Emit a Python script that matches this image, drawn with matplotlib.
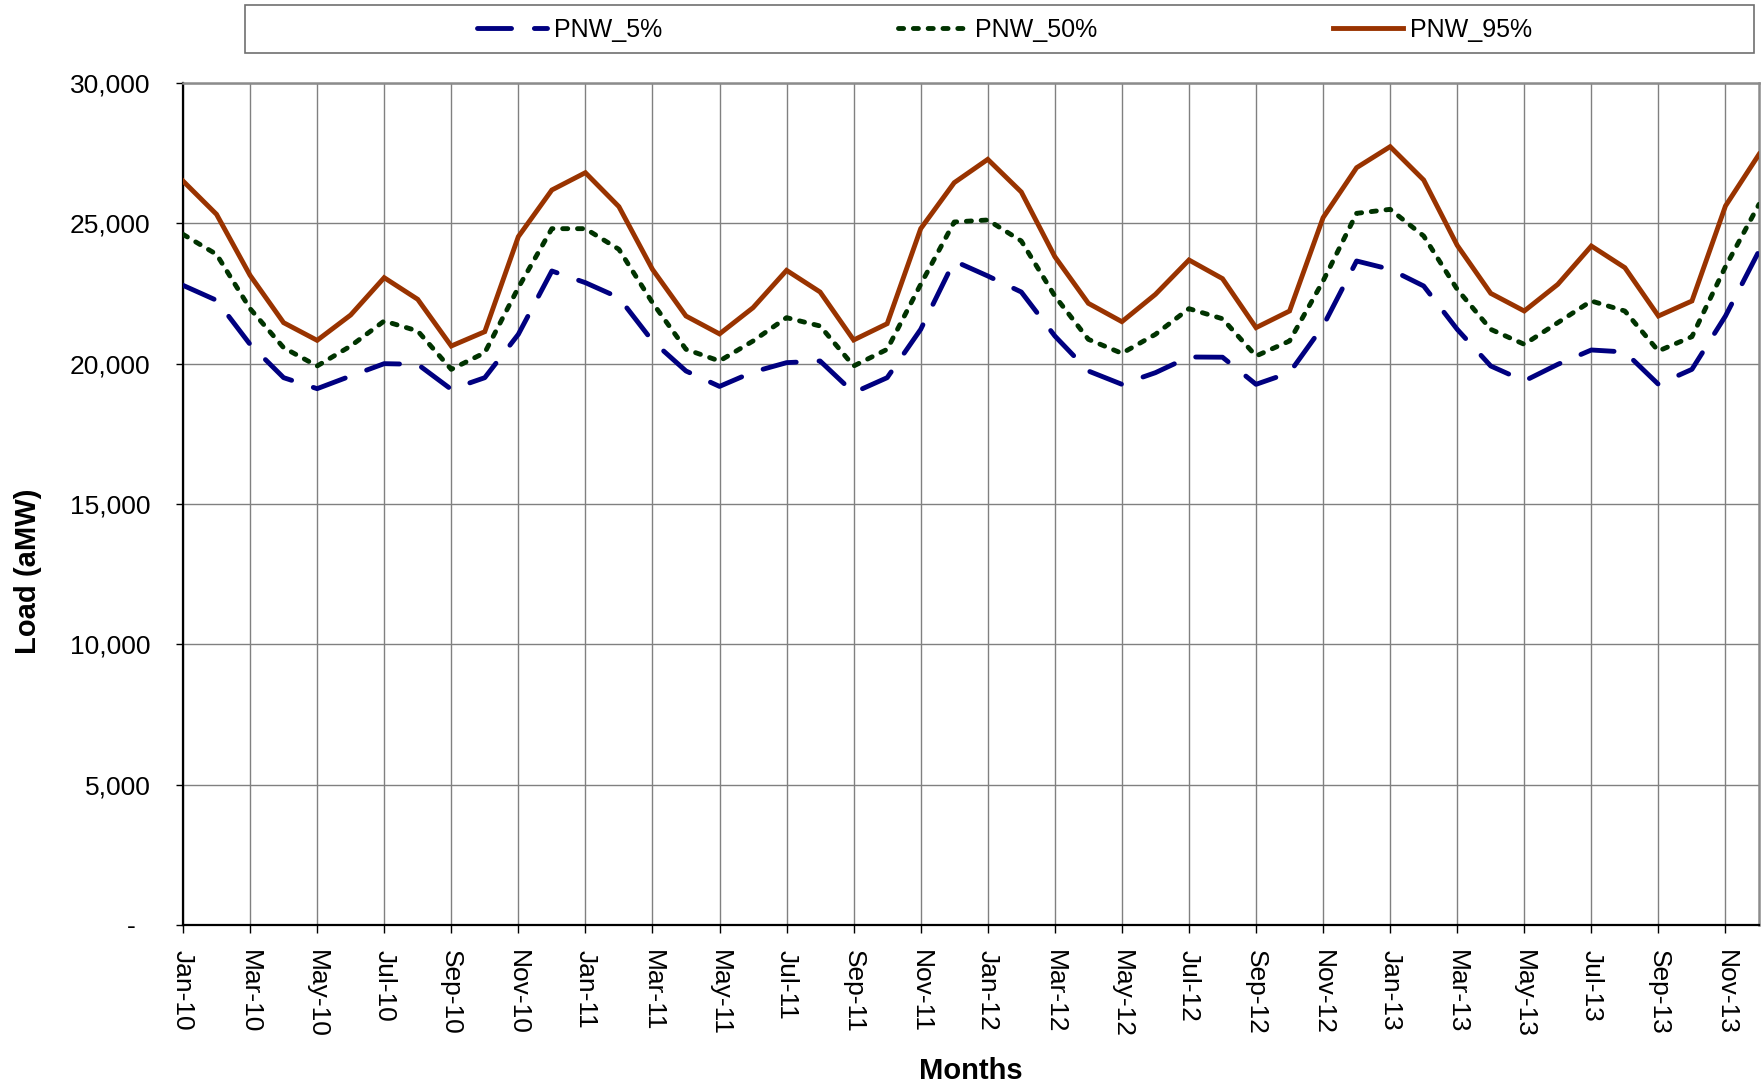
import matplotlib
matplotlib.use("Agg")
import matplotlib.pyplot as plt
from matplotlib.patches import Rectangle
import numpy as np

plt.rcParams['font.family'] = ['Liberation Sans', 'DejaVu Sans']

# ---- data ----
series_names = ["PNW_5%", "PNW_50%", "PNW_95%"]

pnw_5 = [22791, 22257, 20689, 19501, 19109, 19561, 20000, 19976, 19086, 19501, 21045, 23302,
         22886, 22352, 20808, 19739, 19190, 19703, 20036, 20095, 18967, 19501, 21223, 23658,
         23124, 22553, 20986, 19739, 19264, 19679, 20238, 20230, 19264, 19679, 21342, 23658,
         23361, 22767, 21223, 19917, 19382, 19976, 20487, 20416, 19264, 19798, 21698, 24014]

pnw_50 = [24608, 23895, 21960, 20570, 19917, 20629, 21520, 21164, 19798, 20392, 22708, 24810,
          24810, 24074, 22173, 20511, 20095, 20808, 21639, 21342, 19917, 20511, 22827, 25048,
          25119, 24371, 22410, 20867, 20368, 21045, 21960, 21600, 20273, 20808, 22945, 25356,
          25499, 24549, 22648, 21223, 20689, 21461, 22233, 21876, 20451, 20962, 23456, 25677]

pnw_95 = [26508, 25321, 23147, 21461, 20831, 21734, 23064, 22292, 20629, 21140, 24525, 26188,
          26805, 25594, 23361, 21698, 21060, 21995, 23325, 22553, 20843, 21425, 24810, 26449,
          27280, 26116, 23812, 22150, 21496, 22470, 23694, 23030, 21283, 21876, 25202, 26983,
          27732, 26544, 24216, 22506, 21876, 22827, 24192, 23420, 21698, 22233, 25618, 27458]

tick_labels = ["Jan-10", "Mar-10", "May-10", "Jul-10", "Sep-10", "Nov-10",
               "Jan-11", "Mar-11", "May-11", "Jul-11", "Sep-11", "Nov-11",
               "Jan-12", "Mar-12", "May-12", "Jul-12", "Sep-12", "Nov-12",
               "Jan-13", "Mar-13", "May-13", "Jul-13", "Sep-13", "Nov-13"]

y_ticks = [0, 5000, 10000, 15000, 20000, 25000, 30000]

# ---- figure ----
W, H = 1761, 1087
fig = plt.figure(figsize=(W / 100, H / 100), dpi=100)
ax = fig.add_axes([183 / W, 1 - 925 / H, (1759 - 183) / W, (925 - 83) / H])

x = np.arange(len(pnw_5))
l5, = ax.plot(x, pnw_5, color="#000080", lw=3.5, dashes=(7.0, 4.7),
              dash_capstyle="round", solid_capstyle="round", zorder=3)
l50, = ax.plot(x, pnw_50, color="#003300", lw=3.5, dashes=(1.05, 2.0),
               dash_capstyle="round", zorder=3)
l95, = ax.plot(x, pnw_95, color="#993300", lw=3.5, solid_joinstyle="miter", zorder=3)

ax.set_xlim(0, len(x) - 1)
ax.set_ylim(0, 30000)

ax.set_xticks(np.arange(0, len(x), 2))
ax.set_xticklabels(tick_labels, rotation=270, ha="center", va="top", fontsize=19)
ax.set_yticks(y_ticks)
ax.set_yticklabels(["-  " if v == 0 else f"{v:,}" for v in y_ticks], fontsize=19)

ax.tick_params(axis="x", direction="out", length=5.8, width=1, pad=12, colors="black")
ax.tick_params(axis="y", direction="out", length=5, width=1, pad=18.5, colors="black")

ax.grid(True, color="#808080", lw=1)
ax.set_axisbelow(True)

for s in ["left", "bottom"]:
    ax.spines[s].set_color("black")
    ax.spines[s].set_linewidth(1.6)
for s in ["top", "right"]:
    ax.spines[s].set_color("#8c8c8c")
    ax.spines[s].set_linewidth(1.8)

fig.text(28 / W, 1 - 571 / H, "Load (aMW)", rotation=90, ha="center", va="center",
         fontsize=21, fontweight="bold")
fig.text(971 / W, 1 - 1071 / H, "Months", ha="center", va="center",
         fontsize=21, fontweight="bold")

# legend frame
fig.patches.append(Rectangle((245 / W, 1 - 53 / H), (1754 - 245) / W, 48 / H,
                             transform=fig.transFigure, fill=False,
                             ec="#707070", lw=1.2))
fig.legend([l5, l50, l95], series_names, loc="center left",
           bbox_to_anchor=(477 / W, 1 - 30 / H), ncol=3, frameon=False,
           fontsize=18, handlelength=2.8, handletextpad=0.3,
           columnspacing=9.4, borderpad=0, borderaxespad=0)

fig.savefig("out.png", dpi=100)
